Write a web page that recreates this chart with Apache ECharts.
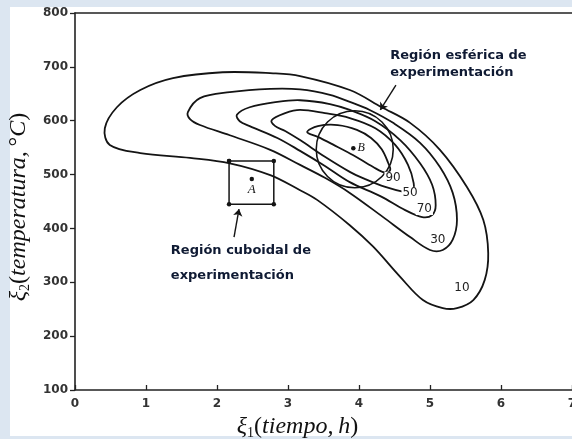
<!DOCTYPE html>
<html>
<head>
<meta charset="utf-8">
<script src="https://cdn.jsdelivr.net/npm/echarts@6/dist/echarts.min.js"></script>
<style>
  html, body { margin: 0; padding: 0; background: #dce6f1; }
  #panel { position: absolute; left: 10px; top: 7px; width: 562px; height: 429px; background: #ffffff; }
  #chart { position: absolute; left: 0; top: 0; width: 572px; height: 439px; }
</style>
</head>
<body>
<div id="panel"></div>
<div id="chart"></div>
<script>
// ---- data (x: tiempo h, y: temperatura °C) ----
const xTicks = [0, 1, 2, 3, 4, 5, 6, 7];
const yTicks = [100, 200, 300, 400, 500, 600, 700, 800];

const contour10 = [[2.08,690],[2.79,688],[3.17,683],[3.87,657],[4.32,625],[4.72,596],[5.14,546],[5.52,477],[5.75,416],[5.82,354],[5.77,304],[5.61,267],[5.38,252],[5.18,252],[4.90,267],[4.58,310],[4.20,366],[3.87,406],[3.41,453],[3.17,471],[2.75,499],[2.18,521],[1.62,531],[0.92,540],[0.49,555],[0.42,586],[0.59,625],[0.92,657],[1.38,679]];
const contour30 = [[2.18,653],[2.75,659],[3.17,658],[3.59,648],[3.87,635],[4.15,620],[4.48,596],[4.86,559],[5.14,514],[5.32,466],[5.38,416],[5.32,379],[5.18,360],[5.00,360],[4.72,384],[4.34,421],[3.87,466],[3.52,494],[3.17,518],[2.75,546],[2.18,573],[1.76,592],[1.62,603],[1.59,616],[1.76,642]];
const contour70 = [[2.85,635],[3.17,638],[3.59,631],[3.87,620],[4.23,599],[4.58,564],[4.86,521],[5.03,481],[5.08,443],[5.03,425],[4.89,421],[4.65,434],[4.30,460],[3.87,486],[3.52,516],[3.17,544],[2.85,568],[2.46,590],[2.32,599],[2.28,611],[2.46,625]];
const contour50 = [[3.17,620],[3.52,614],[3.87,605],[4.23,586],[4.51,555],[4.69,518],[4.77,484],[4.75,468],[4.63,468],[4.37,477],[4.08,492],[3.87,505],[3.52,533],[3.17,564],[2.96,581],[2.82,590],[2.77,601],[2.96,614]];
const contour90 = [[3.70,592],[3.97,583],[4.17,568],[4.32,547],[4.41,522],[4.44,509],[4.38,503],[4.20,514],[3.92,536],[3.63,556],[3.42,570],[3.27,579],[3.42,590]];

const contourLevels = ['10', '30', '70', '50', '90'];
const levelLabelPos = [[5.45,289],[5.11,378],[4.92,436],[4.72,466],[4.48,494]];

const cuboidCorners = [[2.17,525],[2.80,525],[2.80,445],[2.17,445]];
const pointA = [2.49, 492];
const pointB = [3.92, 549];
const sphereCenter = [3.94, 547];
const arrowCuboid = [[2.24,384],[2.31,436]];
const arrowSphere = [[4.52,666],[4.30,620]];
const noteCuboidAnchor = [1.35, 335];
const noteSphereAnchor = [4.44, 705];
const noteCuboidText = ['Región cuboidal de', 'experimentación'];
const noteSphereText = ['Región esférica de', 'experimentación'];

// ---- chart ----
const chart = echarts.init(document.getElementById('chart'), null, { renderer: 'canvas' });
const ink = '#141414';
const serif = "'Liberation Serif', 'DejaVu Serif', serif";
const noteColor = '#0f1a33';

function contourSeries(pts) {
  return {
    type: 'custom',
    coordinateSystem: 'cartesian2d',
    silent: true,
    data: pts,
    encode: { x: 0, y: 1 },
    renderItem: function (params, api) {
      if (params.dataIndex !== 0) return null;
      const points = pts.map(p => api.coord(p));
      return {
        type: 'polygon',
        shape: { points: points, smooth: 0.35 },
        style: { fill: 'none', stroke: ink, lineWidth: 1.8 }
      };
    },
    z: 2
  };
}

const axisLineStyle = { color: '#222', width: 1.6 };
const tickLabel = { fontFamily: 'DejaVu Sans', fontWeight: 'bold', fontSize: 12, color: '#333' };
const titleRich = {
  i: { fontFamily: serif, fontStyle: 'italic', fontSize: 24, color: '#111', lineHeight: 27, verticalAlign: 'middle' },
  r: { fontFamily: serif, fontSize: 24, color: '#111', lineHeight: 27, verticalAlign: 'middle' },
  s: { fontFamily: serif, fontSize: 14, color: '#111', lineHeight: 14, verticalAlign: 'bottom' }
};
const solid = { opacity: 1 };

const option = {
  animation: false,
  backgroundColor: 'transparent',
  grid: { left: 75, right: 0, top: 13, bottom: 49, containLabel: false, outerBoundsMode: 'none' },
  xAxis: [
    {
      type: 'value', min: xTicks[0], max: xTicks[xTicks.length - 1], interval: 1, position: 'bottom',
      axisLine: { show: true, onZero: false, lineStyle: axisLineStyle },
      axisTick: { show: true, inside: true, length: 5, lineStyle: { color: '#222', width: 1.3 } },
      axisLabel: Object.assign({ margin: 8 }, tickLabel),
      splitLine: { show: false },
      name: '{i|ξ}{s|1}{r|(}{i|tiempo,\u2009h}{r|)}',
      nameLocation: 'middle',
      nameGap: 21,
      nameTextStyle: { padding: [0, 52, 0, 0], rich: titleRich }
    },
    {
      type: 'value', min: xTicks[0], max: xTicks[xTicks.length - 1], position: 'top',
      axisLine: { show: true, onZero: false, lineStyle: axisLineStyle },
      axisTick: { show: false }, axisLabel: { show: false }, splitLine: { show: false }
    }
  ],
  yAxis: {
    type: 'value', min: yTicks[0], max: yTicks[yTicks.length - 1], interval: 100,
    axisLine: { show: true, onZero: false, lineStyle: axisLineStyle },
    axisTick: { show: true, inside: false, length: 5, lineStyle: { color: '#222', width: 1.3 } },
    axisLabel: Object.assign({ margin: 7 }, tickLabel),
    splitLine: { show: false },
    name: '{i|ξ}{s|2}{r|(}{i|temperatura,\u2009}{r|°}{i|C}{r|)}',
    nameLocation: 'middle',
    nameRotate: 90,
    nameGap: 43,
    nameTextStyle: { padding: [0, 11, 0, 0], rich: titleRich }
  },
  series: [
    contourSeries(contour10),
    contourSeries(contour30),
    contourSeries(contour70),
    contourSeries(contour50),
    contourSeries(contour90),
    {
      // cuboidal region
      type: 'line', data: cuboidCorners.concat([cuboidCorners[0]]),
      symbol: 'circle', symbolSize: 4.5, showSymbol: true, silent: true,
      itemStyle: { color: ink, opacity: 1 }, lineStyle: { color: ink, width: 1.5 }, z: 3
    },
    {
      // spherical region
      type: 'scatter', data: [sphereCenter], symbol: 'circle', symbolSize: 77, silent: true,
      itemStyle: { color: 'rgba(255,255,255,0)', borderColor: ink, borderWidth: 1.6, opacity: 1 }, z: 3
    },
    {
      type: 'scatter', data: [pointA], symbolSize: 4.5, silent: true, itemStyle: { color: ink, opacity: 1 },
      label: { show: true, position: 'bottom', distance: 2, formatter: 'A', fontFamily: serif, fontStyle: 'italic', fontSize: 13, color: '#111', opacity: 1 }, z: 4
    },
    {
      type: 'scatter', data: [pointB], symbolSize: 4.5, silent: true, itemStyle: { color: ink, opacity: 1 },
      label: { show: true, position: 'right', distance: 2, formatter: 'B', fontFamily: serif, fontStyle: 'italic', fontSize: 12, color: '#111', opacity: 1 }, z: 4
    },
    {
      type: 'lines', coordinateSystem: 'cartesian2d', silent: true,
      symbol: ['none', 'arrow'], symbolSize: 7,
      lineStyle: { color: ink, width: 1.4, opacity: 1 },
      data: [{ coords: arrowCuboid }, { coords: arrowSphere }], z: 4
    },
    {
      // contour level labels
      type: 'scatter', symbolSize: 0, silent: true, itemStyle: solid,
      data: levelLabelPos.map((p, i) => ({ value: p, name: contourLevels[i] })),
      label: {
        show: true, position: 'inside', formatter: '{b}', opacity: 1,
        fontFamily: 'DejaVu Sans', fontSize: 12, color: '#222222',
        backgroundColor: '#ffffff', padding: [0, 1], textBorderWidth: 0
      }, z: 5
    },
    {
      type: 'scatter', symbolSize: 0, silent: true, data: [noteCuboidAnchor], itemStyle: solid,
      label: {
        show: true, position: 'right', distance: 0, align: 'left', opacity: 1,
        formatter: noteCuboidText.join('\n'), lineHeight: 25,
        fontFamily: 'DejaVu Sans', fontWeight: 'bold', fontSize: 13, color: noteColor
      }, z: 5
    },
    {
      type: 'scatter', symbolSize: 0, silent: true, data: [noteSphereAnchor], itemStyle: solid,
      label: {
        show: true, position: 'right', distance: 0, align: 'left', opacity: 1,
        formatter: noteSphereText.join('\n'), lineHeight: 17,
        fontFamily: 'DejaVu Sans', fontWeight: 'bold', fontSize: 13, color: noteColor
      }, z: 5
    }
  ]
};
chart.setOption(option);
</script>
</body>
</html>
